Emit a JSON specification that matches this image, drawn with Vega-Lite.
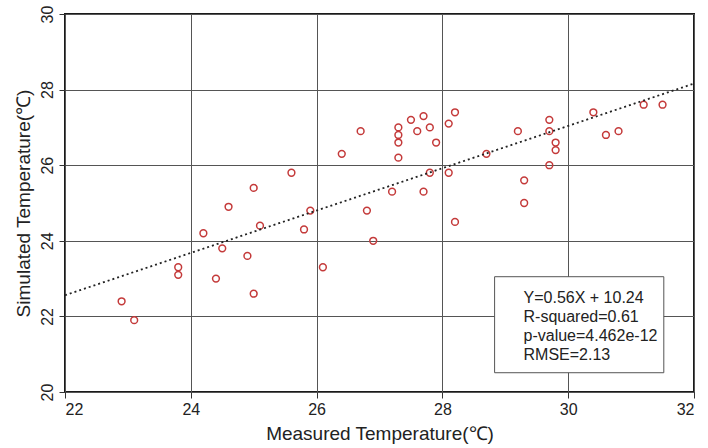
{
  "$schema": "https://vega.github.io/schema/vega-lite/v6.json",
  "width": 629,
  "height": 378,
  "autosize": {"type": "none"},
  "padding": {"left": 65, "top": 14, "right": 14, "bottom": 56},
  "background": "white",
  "config": {
    "view": {"stroke": "#1a1a1a", "strokeWidth": 2},
    "font": "Liberation Sans",
    "axis": {
      "grid": true,
      "gridColor": "#555555",
      "gridWidth": 1,
      "gridOpacity": 1,
      "domain": false,
      "tickColor": "#333333",
      "tickSize": 6,
      "labelColor": "#222222",
      "titleColor": "#222222",
      "labelFont": "Liberation Sans",
      "titleFont": "Liberation Sans",
      "labelFontSize": 16,
      "titleFontSize": 19,
      "titleFontWeight": "normal"
    }
  },
  "layer": [
    {
      "data": {
        "values": [
          {"measured": 22.9, "simulated": 22.4},
          {"measured": 23.1, "simulated": 21.9},
          {"measured": 23.8, "simulated": 23.3},
          {"measured": 23.8, "simulated": 23.1},
          {"measured": 24.2, "simulated": 24.2},
          {"measured": 24.4, "simulated": 23.0},
          {"measured": 24.5, "simulated": 23.8},
          {"measured": 24.6, "simulated": 24.9},
          {"measured": 24.9, "simulated": 23.6},
          {"measured": 25.0, "simulated": 25.4},
          {"measured": 25.0, "simulated": 22.6},
          {"measured": 25.1, "simulated": 24.4},
          {"measured": 25.6, "simulated": 25.8},
          {"measured": 25.8, "simulated": 24.3},
          {"measured": 25.9, "simulated": 24.8},
          {"measured": 26.1, "simulated": 23.3},
          {"measured": 26.4, "simulated": 26.3},
          {"measured": 26.7, "simulated": 26.9},
          {"measured": 26.8, "simulated": 24.8},
          {"measured": 26.9, "simulated": 24.0},
          {"measured": 27.2, "simulated": 25.3},
          {"measured": 27.3, "simulated": 27.0},
          {"measured": 27.3, "simulated": 26.8},
          {"measured": 27.3, "simulated": 26.6},
          {"measured": 27.3, "simulated": 26.2},
          {"measured": 27.5, "simulated": 27.2},
          {"measured": 27.6, "simulated": 26.9},
          {"measured": 27.7, "simulated": 27.3},
          {"measured": 27.7, "simulated": 25.3},
          {"measured": 27.8, "simulated": 27.0},
          {"measured": 27.8, "simulated": 25.8},
          {"measured": 27.9, "simulated": 26.6},
          {"measured": 28.1, "simulated": 27.1},
          {"measured": 28.1, "simulated": 25.8},
          {"measured": 28.2, "simulated": 27.4},
          {"measured": 28.2, "simulated": 24.5},
          {"measured": 28.7, "simulated": 26.3},
          {"measured": 29.2, "simulated": 26.9},
          {"measured": 29.3, "simulated": 25.6},
          {"measured": 29.3, "simulated": 25.0},
          {"measured": 29.7, "simulated": 27.2},
          {"measured": 29.7, "simulated": 26.9},
          {"measured": 29.7, "simulated": 26.0},
          {"measured": 29.8, "simulated": 26.6},
          {"measured": 29.8, "simulated": 26.4},
          {"measured": 30.4, "simulated": 27.4},
          {"measured": 30.6, "simulated": 26.8},
          {"measured": 30.8, "simulated": 26.9},
          {"measured": 31.2, "simulated": 27.6},
          {"measured": 31.5, "simulated": 27.6}
        ]
      },
      "mark": {"type": "point", "shape": "circle", "filled": false, "color": "#c43a3a", "size": 46, "strokeWidth": 1.5, "opacity": 1},
      "encoding": {
        "x": {
          "field": "measured",
          "type": "quantitative",
          "scale": {"domain": [22, 32], "nice": false, "zero": false},
          "axis": {"title": "Measured Temperature(℃)", "values": [22, 24, 26, 28, 30, 32], "format": "d", "labelPadding": 3, "titlePadding": 7}
        },
        "y": {
          "field": "simulated",
          "type": "quantitative",
          "scale": {"domain": [20, 30], "nice": false, "zero": false},
          "axis": {"title": "Simulated Temperature(℃)", "values": [20, 22, 24, 26, 28, 30], "format": "d", "labelAngle": -90, "labelAlign": "center", "labelBaseline": "bottom", "labelPadding": 4, "titlePadding": 6}
        }
      }
    },
    {
      "data": {"values": [{"measured": 22, "simulated": 22.56}, {"measured": 32, "simulated": 28.16}]},
      "mark": {"type": "line", "strokeDash": [2, 3], "color": "#222222", "strokeWidth": 1.8},
      "encoding": {
        "x": {"field": "measured", "type": "quantitative"},
        "y": {"field": "simulated", "type": "quantitative"}
      }
    },
    {
      "data": {"values": [{"box": "stats"}]},
      "mark": {"type": "rect", "fill": "white", "stroke": "#555555", "strokeWidth": 1},
      "encoding": {
        "x": {"datum": 28.83, "type": "quantitative"},
        "x2": {"datum": 31.52},
        "y": {"datum": 20.51, "type": "quantitative"},
        "y2": {"datum": 23.05}
      }
    },
    {
      "data": {"values": [{"box": "stats"}]},
      "mark": {"type": "text", "align": "left", "baseline": "middle", "fontSize": 16, "lineHeight": 19.3, "color": "#222222", "font": "Liberation Sans"},
      "encoding": {
        "x": {"datum": 29.29, "type": "quantitative"},
        "y": {"datum": 22.5, "type": "quantitative"},
        "text": {"value": ["Y=0.56X + 10.24", "R-squared=0.61", "p-value=4.462e-12", "RMSE=2.13"]}
      }
    }
  ]
}
